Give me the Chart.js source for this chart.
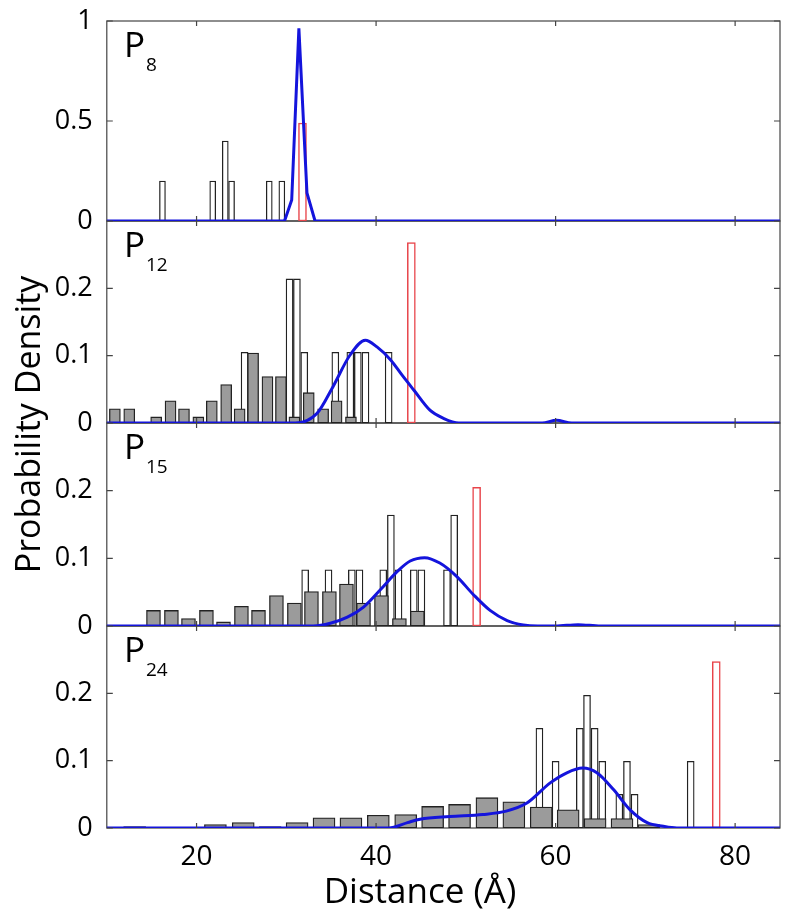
<!DOCTYPE html>
<html><head><meta charset="utf-8">
<script src="https://cdn.jsdelivr.net/npm/chart.js@4.4.1/dist/chart.umd.min.js"></script>
<style>html,body{margin:0;padding:0;background:#fff}#wrap{width:800px;height:921px}</style>
</head><body><div id="wrap"><canvas id="c" width="800" height="921"></canvas></div>
<script>
// ---------- data ----------
const panelSubscripts = ['8', '12', '15', '24'];
const xTickValues = [20, 40, 60, 80];
const yTicksP8 = [0, 0.5, 1];
const yTicksOther = [0, 0.1, 0.2];
const yMaxes = [1, 0.3, 0.3, 0.3];
const xAxisTitle = 'Distance (Å)';
const yAxisTitle = 'Probability Density';

// P8
const p8WhiteX = [16.2, 21.8, 23.2, 23.9, 28.1, 29.5];
const p8WhiteY = [0.2, 0.2, 0.4, 0.2, 0.2, 0.2];
const p8RedX = [31.8];
const p8RedY = [0.49];
const p8LineX = [10, 29.8, 30.6, 31.4, 32.3, 33.2, 85];
const p8LineY = [0, 0, 0.105, 0.963, 0.14, 0, 0];

// P12
const p12GrayX = [10.9, 12.5, 15.5, 17.1, 18.6, 20.2, 21.7, 23.3, 24.8, 26.3, 27.9, 29.4, 30.9, 32.5, 34.1, 35.6, 37.2];
const p12GrayY = [0.021, 0.021, 0.009, 0.033, 0.021, 0.009, 0.033, 0.057, 0.021, 0.104, 0.069, 0.069, 0.009, 0.045, 0.021, 0.033, 0.009];
const p12WhiteX = [25.35, 30.36, 31.18, 32.0, 35.46, 37.13, 37.97, 38.82, 41.4];
const p12WhiteY = [0.105, 0.214, 0.214, 0.105, 0.105, 0.105, 0.105, 0.105, 0.105];
const p12RedX = [43.93];
const p12RedY = [0.268];
const p12LineX = [10, 31, 33.4, 35.2, 37.1, 38.8, 40.1, 41.6, 42.9, 44.2, 46.0, 47.5, 49.2, 58.5, 60.1, 61.8, 85];
const p12LineY = [0, 0, 0.014, 0.054, 0.101, 0.123, 0.113, 0.094, 0.071, 0.049, 0.019, 0.007, 0, 0, 0.004, 0, 0];

// P15
const p15GrayX = [15.2, 17.2, 19.1, 21.1, 23.0, 25.0, 26.9, 28.9, 30.9, 32.8, 34.8, 36.7, 38.6, 40.6, 42.6, 44.6];
const p15GrayY = [0.023, 0.023, 0.011, 0.023, 0.006, 0.029, 0.023, 0.045, 0.034, 0.051, 0.051, 0.062, 0.034, 0.045, 0.011, 0.022];
const p15WhiteX = [32.1, 34.7, 37.3, 38.15, 40.8, 41.65, 42.5, 44.2, 45.05, 47.9, 48.7];
const p15WhiteY = [0.083, 0.083, 0.083, 0.083, 0.083, 0.164, 0.083, 0.083, 0.083, 0.083, 0.164];
const p15RedX = [51.2];
const p15RedY = [0.205];
const p15LineX = [10, 33.0, 34.9, 36.8, 38.6, 40.5, 42.4, 43.8, 45.4, 47.1, 49.0, 50.8, 52.7, 54.6, 56.4, 58, 60, 62.5, 65, 85];
const p15LineY = [0, 0, 0.004, 0.013, 0.028, 0.054, 0.081, 0.096, 0.101, 0.093, 0.073, 0.047, 0.023, 0.008, 0.0015, 0, 0, 0.002, 0, 0];

// P24
const p24GrayX = [13.1, 22.1, 25.2, 28.2, 31.2, 34.2, 37.2, 40.25, 43.3, 46.3, 49.3, 52.35, 55.35, 58.4, 61.4, 64.4, 67.4, 70.4];
const p24GrayY = [0.002, 0.005, 0.008, 0.002, 0.008, 0.015, 0.015, 0.019, 0.020, 0.032, 0.035, 0.045, 0.039, 0.031, 0.027, 0.014, 0.014, 0.005];
const p24WhiteX = [58.2, 60.0, 62.7, 63.5, 64.35, 65.2, 67.1, 67.95, 68.8, 75.05];
const p24WhiteY = [0.148, 0.099, 0.148, 0.197, 0.148, 0.099, 0.05, 0.099, 0.05, 0.099];
const p24RedX = [77.9];
const p24RedY = [0.247];
const p24LineX = [10, 41.4, 43.5, 44.9, 48.2, 51.9, 54.5, 56.8, 59.4, 61.25, 63.0, 64.6, 66.45, 68.3, 70.2, 72.0, 73.5, 85];
const p24LineY = [0, 0, 0.008, 0.013, 0.017, 0.020, 0.025, 0.037, 0.067, 0.082, 0.089, 0.082, 0.057, 0.027, 0.008, 0.0025, 0, 0];

// ---------- styles ----------
const FONT = '"Open Sans", "Noto Sans", sans-serif';
const BLUE = '#1414dc';
const RED = '#e8444a';
const GRAY = '#9b9b9b';
const EDGE = '#222222';
const FRAME = '#444444';
const PANEL_WEIGHTS = [200, 202, 203, 202];

const pts = (xs, ys) => xs.map((x, i) => ({x: x, y: ys[i]}));
const yIds = ['y1', 'y2', 'y3', 'y4'];

function grayBars(xs, ys, yId, thick) {
  return {type: 'bar', data: pts(xs, ys), yAxisID: yId, backgroundColor: GRAY, borderColor: EDGE,
    borderWidth: 1.3, borderSkipped: false, barThickness: thick, grouped: false, order: 1};
}
function whiteBars(xs, ys, yId, thick) {
  return {type: 'bar', data: pts(xs, ys), yAxisID: yId, backgroundColor: '#ffffff', borderColor: EDGE,
    borderWidth: 1.3, borderSkipped: false, barThickness: thick, grouped: false, order: 2};
}
function redBars(xs, ys, yId) {
  return {type: 'bar', data: pts(xs, ys), yAxisID: yId, backgroundColor: '#ffffff', borderColor: RED,
    borderWidth: 1.5, borderSkipped: false, barThickness: 8, grouped: false, order: 3};
}
function blueLine(xs, ys, yId, smooth) {
  return {type: 'line', data: pts(xs, ys), yAxisID: yId, borderColor: BLUE, borderWidth: 3,
    pointRadius: 0, fill: false, tension: smooth ? 0.4 : 0,
    cubicInterpolationMode: smooth ? 'monotone' : 'default', order: 0};
}

const datasets = [
  blueLine(p8LineX, p8LineY, 'y1', false),
  whiteBars(p8WhiteX, p8WhiteY, 'y1', 6),
  redBars(p8RedX, p8RedY, 'y1'),

  blueLine(p12LineX, p12LineY, 'y2', true),
  grayBars(p12GrayX, p12GrayY, 'y2', 11),
  whiteBars(p12WhiteX, p12WhiteY, 'y2', 7),
  redBars(p12RedX, p12RedY, 'y2'),

  blueLine(p15LineX, p15LineY, 'y3', true),
  grayBars(p15GrayX, p15GrayY, 'y3', 14),
  whiteBars(p15WhiteX, p15WhiteY, 'y3', 7),
  redBars(p15RedX, p15RedY, 'y3'),

  blueLine(p24LineX, p24LineY, 'y4', true),
  grayBars(p24GrayX, p24GrayY, 'y4', 22),
  whiteBars(p24WhiteX, p24WhiteY, 'y4', 7),
  redBars(p24RedX, p24RedY, 'y4')
];

function yScale(i) {
  const tickVals = i === 0 ? yTicksP8 : yTicksOther;
  return {
    type: 'linear', position: 'left', stack: 'panels', stackWeight: PANEL_WEIGHTS[i], weight: 4 - i,
    min: 0, max: yMaxes[i],
    grid: {display: false, drawTicks: false}, border: {display: false},
    ticks: {font: {size: 27, family: FONT}, color: '#000', padding: 14, callback: v => String(v)},
    afterBuildTicks: s => { s.ticks = tickVals.map(v => ({value: v})); },
    afterFit: s => { s.width = 51; s.paddingTop = 0; s.paddingBottom = 0; }
  };
}

const scales = {
  x: {
    type: 'linear', position: 'bottom', min: 10, max: 85, offset: false,
    grid: {display: false, drawTicks: false}, border: {display: false},
    ticks: {font: {size: 28, family: FONT}, color: '#000', padding: 12, maxRotation: 0, callback: v => String(v)},
    afterBuildTicks: s => { s.ticks = xTickValues.map(v => ({value: v})); },
    afterFit: s => { s.height = 93; s.paddingLeft = 0; s.paddingRight = 0; }
  }
};
yIds.forEach((id, i) => { scales[id] = yScale(i); });

const panelDecor = {
  id: 'panelDecor',
  beforeDatasetsDraw(chart) {
    const ctx = chart.ctx, a = chart.chartArea;
    ctx.save();
    ctx.strokeStyle = FRAME; ctx.lineWidth = 1.2;
    yIds.forEach(id => {
      const s = chart.scales[id];
      ctx.strokeRect(a.left, s.top, a.right - a.left, s.bottom - s.top);
    });
    ctx.restore();
  },
  afterDatasetsDraw(chart) {
    const ctx = chart.ctx, a = chart.chartArea, xs = chart.scales.x;
    ctx.save();
    ctx.strokeStyle = FRAME; ctx.lineWidth = 1.2;
    ctx.beginPath();
    yIds.forEach(id => {
      const s = chart.scales[id];
      s.ticks.forEach(t => {
        const y = s.getPixelForValue(t.value);
        ctx.moveTo(a.left, y); ctx.lineTo(a.left + 6, y);
        ctx.moveTo(a.right, y); ctx.lineTo(a.right - 6, y);
      });
      xs.ticks.forEach(t => {
        const x = xs.getPixelForValue(t.value);
        ctx.moveTo(x, s.top); ctx.lineTo(x, s.top + 5);
        ctx.moveTo(x, s.bottom); ctx.lineTo(x, s.bottom - 5);
      });
    });
    ctx.stroke();
    ctx.restore();
  },
  afterDraw(chart) {
    const ctx = chart.ctx;
    ctx.save();
    ctx.fillStyle = '#000';
    ctx.textAlign = 'left'; ctx.textBaseline = 'alphabetic';
    yIds.forEach((id, i) => {
      const s = chart.scales[id];
      ctx.font = '35px ' + FONT;
      ctx.fillText('P', 124, s.top + 36);
      ctx.font = '19px ' + FONT;
      ctx.fillText(panelSubscripts[i], 146, s.top + 50);
    });
    ctx.font = '35px ' + FONT;
    ctx.textAlign = 'center';
    ctx.fillText(xAxisTitle, 420, 903);
    ctx.restore();
  }
};

new Chart(document.getElementById('c'), {
  type: 'bar',
  data: {datasets: datasets},
  options: {
    responsive: false, animation: false,
    layout: {padding: {top: 21, right: 20, bottom: 0, left: 0}},
    scales: scales,
    plugins: {
      legend: {display: false}, tooltip: {enabled: false},
      title: {display: true, text: yAxisTitle, position: 'left', fullSize: false, color: '#000',
        font: {size: 34, family: FONT, weight: 'normal'}, lineHeight: 1.2, padding: {top: 10, bottom: 5}}
    }
  },
  plugins: [panelDecor]
});
</script></body></html>
